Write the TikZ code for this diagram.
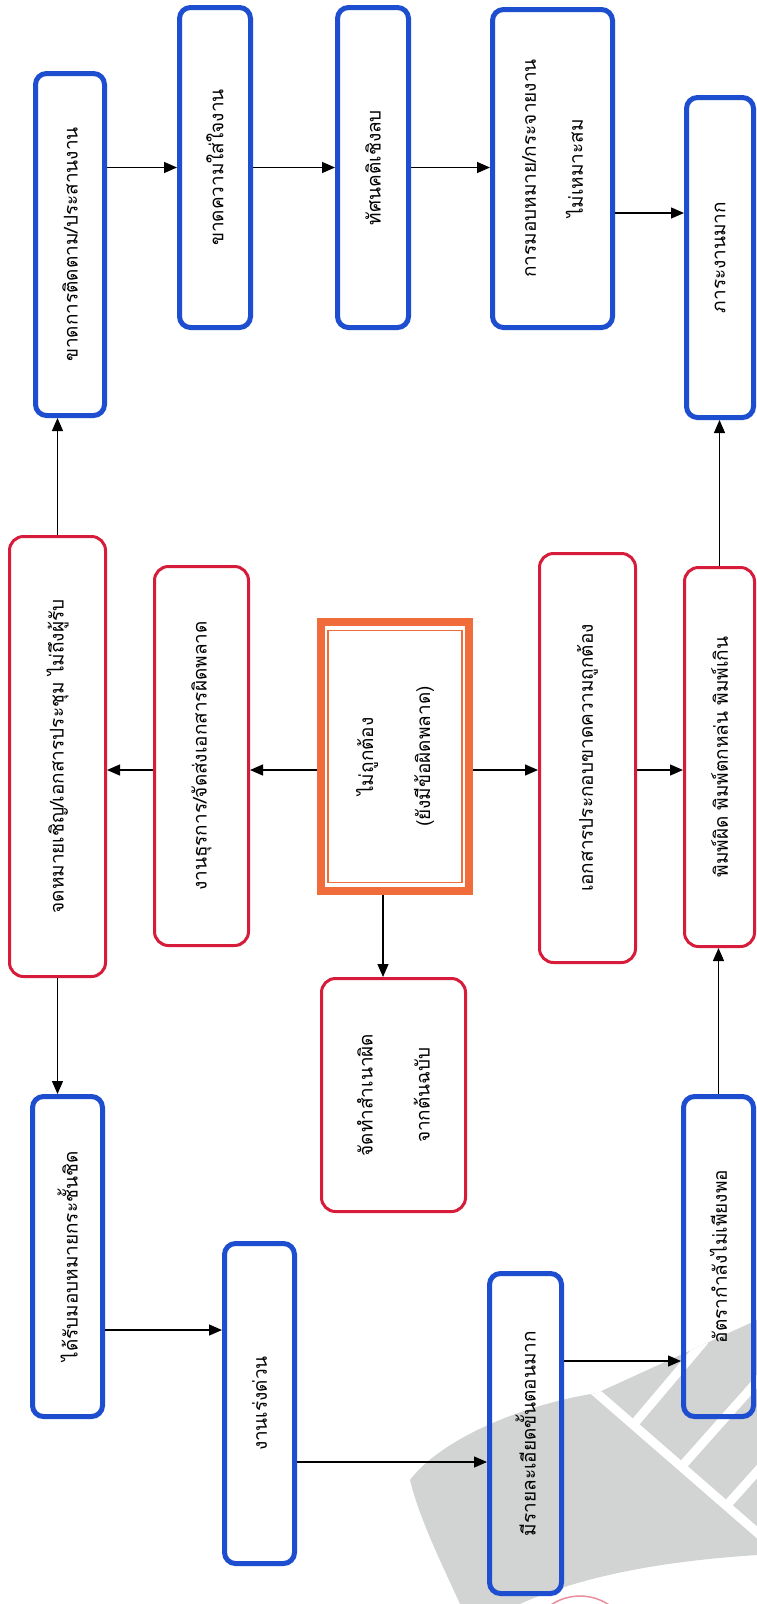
\documentclass[tikz,border=0pt]{standalone}
\usepackage{fontspec}
\newfontfamily\thai[Script=Thai]{Loma}
\usetikzlibrary{arrows.meta,calc}
\definecolor{bx}{RGB}{30,78,208}
\definecolor{rx}{RGB}{214,28,58}
\definecolor{ox}{RGB}{240,108,58}
\definecolor{wm}{RGB}{210,211,211}
\begin{document}
\begin{tikzpicture}[x=1pt,y=-1pt,
  txt/.style={font=\thai\fontsize{19}{25}\selectfont, align=center, rotate=90, inner sep=0pt},
  bluebox/.style={txt, draw=bx, line width=5pt, rounded corners=11pt},
  redbox/.style={txt, draw=rx, line width=3pt, rounded corners=14pt},
  obox/.style={txt, draw=ox, line width=8pt},
  arr/.style={draw=black, line width=1.3pt, -{Triangle[length=13pt,width=11pt]}},
  gap/.style={white, line width=9pt}]
\useasboundingbox (0,0) rectangle (757,1604);
\fill[white] (0,0) rectangle (757,1604);
% watermark
\def\wmpath{(410,1480) .. controls (440,1440) and (520,1405) .. (597,1393) -- (757,1320) -- (757,1555)
  .. controls (680,1560) and (590,1572) .. (520,1604) -- (460,1604) .. controls (440,1560) and (420,1520) .. (410,1480) -- cycle}
\fill[wm] \wmpath;
\begin{scope}
\clip \wmpath;
\draw[gap] (592,1389) -- (760,1535);
\draw[gap] (634,1424) -- (705,1340);
\draw[gap] (682,1466) -- (762,1376);
\draw[gap] (727,1505) -- (762,1466);
\end{scope}
\draw[rx!50, line width=1.5pt] (580,1648) circle (52);
% top row
\node[bluebox, minimum width=342, minimum height=69] (B1) at (70,244.5) {ขาดการติดตาม/ประสานงาน};
\node[bluebox, minimum width=320, minimum height=71] (B2) at (215,167.5) {ขาดความใส่ใจงาน};
\node[bluebox, minimum width=320, minimum height=71] (B3) at (373,167.5) {ทัศนคติเชิงลบ};
\node[bluebox, minimum width=318, minimum height=120] (B4) at (552.5,168.5) {การมอบหมาย/กระจายงาน\\[22pt]ไม่เหมาะสม};
\node[bluebox, minimum width=320, minimum height=67] (B5) at (720,257.5) {ภาระงานมาก};
% middle row
\node[redbox, minimum width=440, minimum height=96] (R1) at (57.5,756.5) {จดหมายเชิญ/เอกสารประชุม ไม่ถึงผู้รับ};
\node[redbox, minimum width=379, minimum height=94] (R2) at (201.5,756) {งานธุรการ/จัดส่งเอกสารผิดพลาด};
\node[obox, minimum width=269, minimum height=148] (O) at (395,756.5) {ไม่ถูกต้อง\\[32pt](ยังมีข้อผิดพลาด)};
\draw[ox, line width=1.4pt] ($(O.center)+(-67,-126)$) rectangle ($(O.center)+(67,126)$);
\node[redbox, minimum width=409, minimum height=96] (R3) at (587.5,758) {เอกสารประกอบขาดความถูกต้อง};
\node[redbox, minimum width=379, minimum height=70] (R4) at (719.5,757) {พิมพ์ผิด พิมพ์ตกหล่น พิมพ์เกิน};
\node[redbox, minimum width=233, minimum height=144] (R5) at (393.5,1095) {จัดทำสำเนาผิด\\[32pt]จากต้นฉบับ};
% bottom row
\node[bluebox, minimum width=320, minimum height=70] (A) at (67.5,1256.5) {ได้รับมอบหมายกระชั้นชิด};
\node[bluebox, minimum width=320, minimum height=70] (B) at (259.5,1403.5) {งานเร่งด่วน};
\node[bluebox, minimum width=320, minimum height=72] (C) at (525.5,1433.5) {มีรายละเอียดขั้นตอนมาก};
\node[bluebox, minimum width=320, minimum height=70] (D) at (718.5,1256.5) {อัตรากำลังไม่เพียงพอ};
% connectors
\coordinate (mr) at (0,770);
\coordinate (c5) at (383,0);
\coordinate (m45) at ($(B4)!0.5!(B5)$);
\coordinate (mab) at ($(A)!0.5!(B)$);
\coordinate (mbc) at (0,1462);
\coordinate (mcd) at (0,1361);
\draw[arr] (R1.east) -- (R1.east |- B1.west);
\draw[arr] (B1.south |- B2) -- (B2.north);
\draw[arr] (B2.south) -- (B3.north);
\draw[arr] (B3.south) -- (B4.north |- B3.south);
\draw[arr] (B4.south |- m45) -- (B5.north |- m45);
\draw[arr] (R4.east) -- (R4.east |- B5.west);
\draw[arr] (O.north |- mr) -- (R2.south |- mr);
\draw[arr] (R2.north |- mr) -- (R1.south |- mr);
\draw[arr] (O.south |- mr) -- (R3.north |- mr);
\draw[arr] (R3.south |- mr) -- (R4.north |- mr);
\draw[arr] (c5 |- O.west) -- (c5 |- R5.east);
\draw[arr] (R1.west) -- (R1.west |- A.east);
\draw[arr] (A.south |- mab) -- (B.north |- mab);
\draw[arr] (B.south |- mbc) -- (C.north |- mbc);
\draw[arr] (C.south |- mcd) -- (D.north |- mcd);
\draw[arr] (D.east) -- (D.east |- R4.west);
\end{tikzpicture}
\end{document}
